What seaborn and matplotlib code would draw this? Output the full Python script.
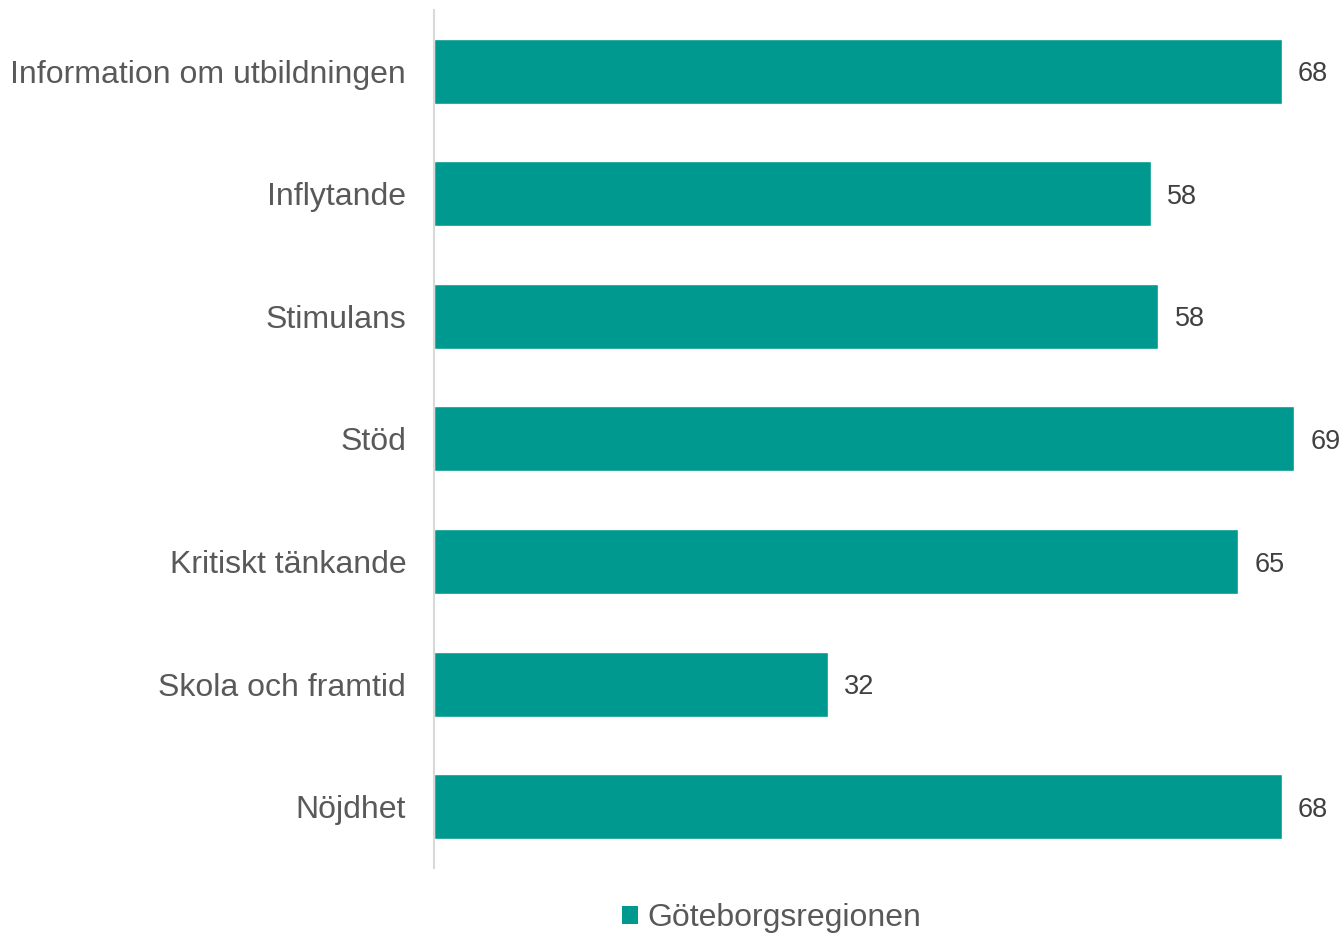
import pandas as pd
import matplotlib.pyplot as plt
import seaborn as sns
from matplotlib.patches import Patch

# Data
categories = ["Information om utbildningen", "Inflytande", "Stimulans", "Stöd",
              "Kritiskt tänkande", "Skola och framtid", "Nöjdhet"]
values = [68.0, 57.5, 58.1, 69.0, 64.5, 31.6, 68.0]
series_name = "Göteborgsregionen"

df = pd.DataFrame({"Kategori": categories, "Värde": values})

bar_color = "#009990"

sns.set_style("white")
plt.rcParams['font.family'] = ['Liberation Sans', 'DejaVu Sans']

fig = plt.figure(figsize=(13.42, 9.33), dpi=100)
ax = fig.add_axes([0.3234, 0.0697, 0.997 - 0.3234, 0.9893 - 0.0697])

sns.barplot(data=df, y="Kategori", x="Värde", color=bar_color, width=0.53,
            saturation=1, ax=ax)

ax.set_xlim(0, 72.5)
ax.set_ylim(6.5, -0.5)
ax.set_xlabel("")
ax.set_ylabel("")
ax.set_xticks([])

for s in ["top", "right", "bottom"]:
    ax.spines[s].set_visible(False)
ax.spines["left"].set_color("#d9d9d9")
ax.spines["left"].set_linewidth(1.5)

ax.tick_params(axis="y", length=0, pad=20, labelsize=23, labelcolor="#595959")

# Value labels (rounded half up)
for i, v in enumerate(values):
    ax.text(v + 1.3, i, str(int(v + 0.5)), va="center_baseline", ha="left",
            fontsize=19.5, color="#404040")

# Legend
handle = Patch(facecolor=bar_color, edgecolor="none")
fig.legend([handle], [series_name], loc="center", bbox_to_anchor=(772 / 1342, 1 - 918 / 933),
           frameon=False, fontsize=23, labelcolor="#595959", handlelength=0.5,
           handleheight=0.5, handletextpad=0.3)

fig.savefig("out.png", dpi=100)
plt.close()
